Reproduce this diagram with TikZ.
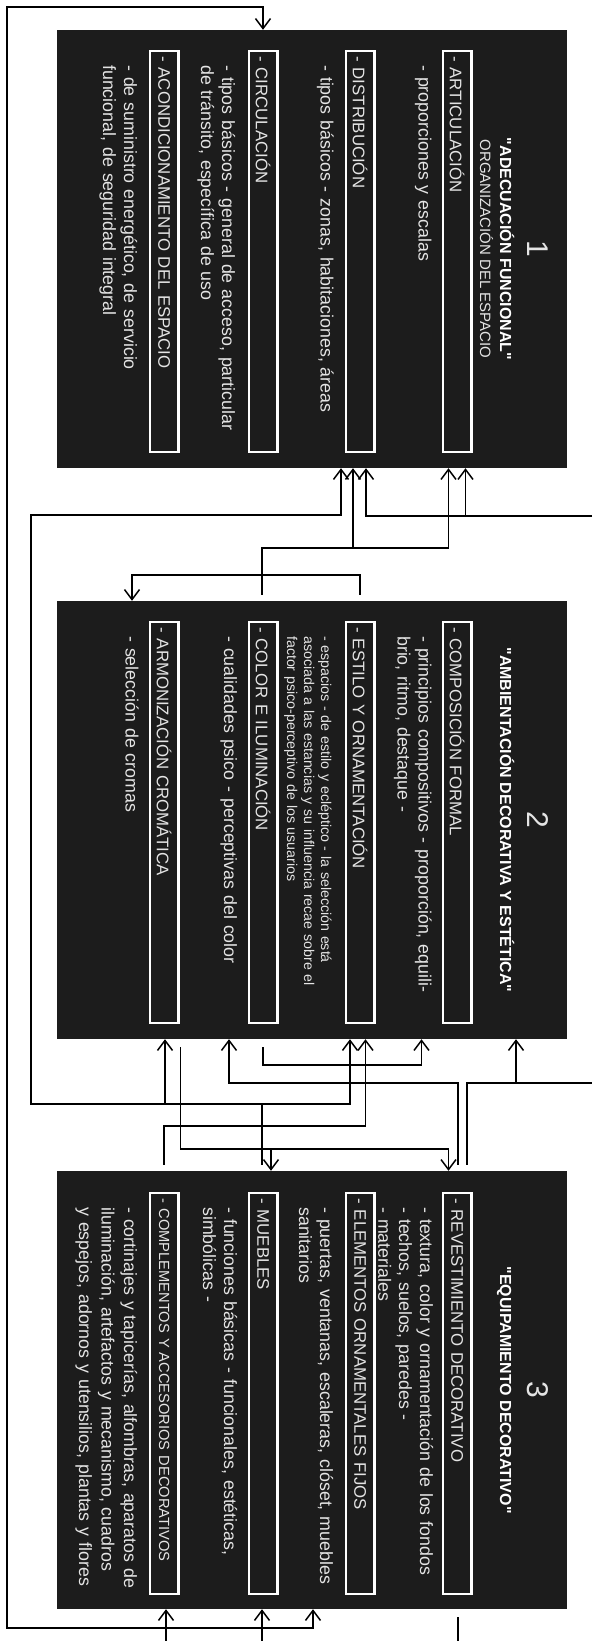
\documentclass[tikz,border=0pt]{standalone}
\usepackage{fontspec}
\setmainfont{Liberation Sans}
\usetikzlibrary{arrows.meta,calc}
\definecolor{panelgray}{HTML}{1C1C1C}
\definecolor{softwhite}{HTML}{E4E4E4}
\tikzset{
  panel/.style={fill=panelgray, draw=none, minimum width=510pt, minimum height=438pt, inner sep=0pt},
  tag/.style={draw=white, line width=2.2pt, rotate=-90, anchor=north west, text=softwhite,
    text width=389pt, minimum height=28.5pt, inner xsep=6pt, inner ysep=0pt, align=left,
    font=\fontsize{16.8}{20}\selectfont},
  desc/.style={rotate=-90, anchor=base west, text=softwhite, text width=430pt, inner sep=0pt,
    align=left, font=\fontsize{17.8}{20.8}\selectfont},
  smalldesc/.style={desc, font=\fontsize{14.2}{17}\selectfont},
  num/.style={rotate=-90, anchor=base, text=softwhite, inner sep=0pt, font=\fontsize{30}{30}\selectfont},
  heading/.style={rotate=-90, anchor=base, text=white, inner sep=0pt, font=\bfseries\fontsize{16}{16}\selectfont},
  subheading/.style={rotate=-90, anchor=base, text=softwhite, inner sep=0pt, font=\fontsize{15}{15}\selectfont},
  wire/.style={draw=black, line width=1.5pt},
  link/.style={wire, -{Straight Barb[length=10pt,width=15pt]}},
  roundtrip/.style={wire, {Straight Barb[length=10pt,width=15pt]}-{Straight Barb[length=10pt,width=15pt]}}
}

\begin{document}
\begin{tikzpicture}[x=1pt,y=-1pt]
\useasboundingbox (0,0) rectangle (592,1641);

% the three panels
\node[panel] (b1) at (312.25,249) {};
\node[panel] (b2) at (312.25,820) {};
\node[panel] (b3) at (312.25,1390) {};

% panel 1
\node[num] (n1) at (527,249) {1};
\node[heading] (t1) at (500,249) {\textquotedbl ADECUACIÓN FUNCIONAL\textquotedbl};
\node[subheading] (s1) at (480,249) {ORGANIZACIÓN DEL ESPACIO};
\node[tag] (art) at (472.5,49.5) {- ARTICULACIÓN};
\node[desc] (artd) at (418.5,65) {- proporciones y escalas};
\node[tag] (dis) at (375.5,49.5) {- DISTRIBUCIÓN};
\node[desc] (disd) at (320.5,65) {- tipos básicos - zonas, habitaciones, áreas};
\node[tag] (cir) at (278.5,49.5) {- CIRCULACIÓN};
\node[desc] (cird) at (222,65) {- tipos básicos - general de acceso, particular\\de tránsito, específica de uso};
\node[tag] (aco) at (179.5,49.5) {- ACONDICIONAMIENTO DEL ESPACIO};
\node[desc] (acod) at (124,65) {- de suministro energético, de servicio\\funcional, de seguridad integral};

% panel 2
\node[num] (n2) at (527,820) {2};
\node[heading] (t2) at (500,820) {\textquotedbl AMBIENTACIÓN DECORATIVA Y ESTÉTICA\textquotedbl};
\node[tag] (com) at (472.5,620.5) {- COMPOSICIÓN FORMAL};
\node[desc] (comd) at (418.5,636) {- principios compositivos - proporción, equili-\\brio, ritmo, destaque -};
\node[tag] (est) at (375.5,620.5) {- ESTILO Y ORNAMENTACIÓN};
\node[smalldesc] (estd) at (321,636) {- espacios - de estilo y ecléptico - la selección está\\asociada a las estancias y su influencia recae sobre el\\factor psico-perceptivo de los usuarios};
\node[tag] (col) at (278.5,620.5) {- COLOR E ILUMINACIÓN};
\node[desc] (cold) at (224,636) {- cualidades psico - perceptivas del color};
\node[tag] (arm) at (179.5,620.5) {- ARMONIZACIÓN CROMÁTICA};
\node[desc] (armd) at (125.5,636) {- selección de cromas};

% panel 3
\node[num] (n3) at (527,1390) {3};
\node[heading] (t3) at (500,1390) {\textquotedbl EQUIPAMIENTO DECORATIVO\textquotedbl};
\node[tag] (rev) at (472.5,1191.5) {- REVESTIMIENTO DECORATIVO};
\node[desc] (revd) at (420,1207) {- textura, color y ornamentación de los fondos\\- techos, suelos, paredes -\\- materiales};
\node[tag] (ele) at (375.5,1191.5) {- ELEMENTOS ORNAMENTALES FIJOS};
\node[desc] (eled) at (320,1207) {- puertas, ventanas, escaleras, clóset, muebles\\sanitarios};
\node[tag] (mue) at (278.5,1191.5) {- MUEBLES};
\node[desc] (mued) at (224,1207) {- funciones básicas - funcionales, estéticas,\\simbólicas -};
\node[tag, font=\fontsize{14.7}{18}\selectfont] (cpl) at (179.5,1191.5) {- COMPLEMENTOS Y ACCESORIOS DECORATIVOS};
\node[desc, font=\fontsize{17.8}{22.5}\selectfont] (cpld) at (124,1207) {- cortinajes y tapicerías, alfombras, aparatos de\\iluminación, artefactos y mecanismo, cuadros\\y espejos, adornos y utensilios, plantas y flores};

% free ends of the connectors
\coordinate (g2top) at ([yshift=6pt]b2.north);
\coordinate (g2bot) at ([yshift=-8pt]b2.south);
\coordinate (g3top) at ([yshift=6pt]b3.north);
\coordinate (g3bot) at ([yshift=-8pt]b3.south);
\coordinate (edgeR) at (592,0);
\coordinate (edgeB) at (0,1641);

% outer loop
\draw[roundtrip] (313,0 |- b3.south) |- (7,1628) |- (263,7) -- (263,0 |- b1.north);

% panel 3 -> panels 1 and 2, left lane
\draw[link] (262,0 |- g3top) |- (31,1104) |- (341,515) -- (341,0 |- b1.south);
\draw[link] (165,1104) -- (165,0 |- b2.south);
\draw[link] (262,1104) -| (350,0 |- b2.south);

% panel 2 -> panel 1
\draw[link] (262,0 |- g2top) |- (448.5,548) -- (448.5,0 |- b1.south);
\draw[link] (353,548) -- (353,0 |- b1.south);

% right lane -> panel 1
\draw[link] (edgeR |- 0,516) -| (366,0 |- b1.south);
\draw[link] (465.5,516) -- (465.5,0 |- b1.south);

% panel 2 back to itself
\draw[link] (360,0 |- g2top) |- (132,575) -- (132,0 |- b2.north);
\draw[link] (263,0 |- g2bot) |- (421.5,1065) -- (421.5,0 |- b2.south);

% panel 3 -> panel 2
\draw[link] (164,0 |- g3top) |- (365.5,1126) -- (365.5,0 |- b2.south);
\draw[link] (458,0 |- g3top) |- (229,1083) -- (229,0 |- b2.south);
\draw[wire] (467,0 |- g3top) |- (edgeR |- 0,1083);
\draw[link] (516,1083) -- (516,0 |- b2.south);

% panel 2 -> panel 3
\draw[link] (180.5,0 |- g2bot) |- (448.5,1149) -- (448.5,0 |- b3.north);
\draw[link] (271,1149) -- (271,0 |- b3.north);

% bottom edge
\draw[link] (166,0 |- edgeB) -- (166,0 |- b3.south);
\draw[link] (262,0 |- edgeB) -- (262,0 |- b3.south);
\draw[wire] (458,0 |- g3bot) -- (458,0 |- edgeB);
\end{tikzpicture}
\end{document}
